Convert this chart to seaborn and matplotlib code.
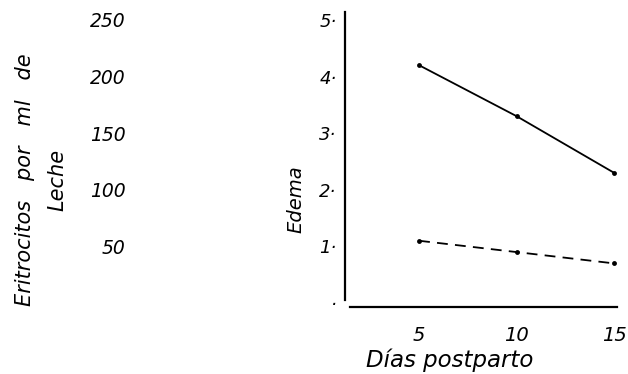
import pandas as pd
import matplotlib
matplotlib.use("Agg")
import matplotlib.pyplot as plt
import seaborn as sns

# Datos
dias = [5, 10, 15]
edema_solida = [4.2, 3.3, 2.3]
edema_discontinua = [1.1, 0.9, 0.7]

edema_ticks = [0, 1, 2, 3, 4, 5]
edema_labels = ["·", "1·", "2·", "3·", "4·", "5·"]
eritro_ticks = [50, 100, 150, 200, 250]
x_ticks = [5, 10, 15]

sns.set_style("white")
plt.rcParams.update({
    "font.family": ["DejaVu Sans"],
    "font.style": "italic",
    "font.size": 12,
    "text.color": "black",
    "xtick.color": "black",
    "ytick.color": "black",
    "axes.edgecolor": "black",
})

W, H = 628, 374
fig = plt.figure(figsize=(W / 100, H / 100), dpi=100)

# Panel derecho: Edema
ax = fig.add_axes([345 / W, 1 - 307 / H, (617 - 345) / W, (307 - 12) / H])
df_s = pd.DataFrame({"dia": dias, "edema": edema_solida})
df_d = pd.DataFrame({"dia": dias, "edema": edema_discontinua})
sns.lineplot(data=df_s, x="dia", y="edema", ax=ax, color="black", lw=1.3,
             marker="o", markersize=3.5, markeredgewidth=0)
sns.lineplot(data=df_d, x="dia", y="edema", ax=ax, color="black", lw=1.3,
             linestyle=(0, (6, 4)), marker="o", markersize=3.5, markeredgewidth=0)

ax.set_xlim(1.2, 15.15)
ax.set_ylim(-0.07, 5.14)
ax.set_yticks(edema_ticks)
ax.set_yticklabels(edema_labels)
ax.set_xticks(x_ticks)
ax.tick_params(axis="y", length=0, pad=6, labelsize=13)
ax.tick_params(axis="x", direction="inout", length=4, width=1.5, pad=12, labelsize=14)
for s in ["top", "right"]:
    ax.spines[s].set_visible(False)
ax.spines["left"].set_linewidth(1.6)
ax.spines["bottom"].set_linewidth(1.6)
ax.spines["left"].set_bounds(0.05, 5.14)
ax.spines["bottom"].set_bounds(1.45, 15.15)
ax.set_xlabel("")
ax.set_ylabel("")
fig.text(296 / W, 1 - 199 / H, "Edema", rotation=90, ha="center", va="center", fontsize=14)
fig.text(450 / W, 1 - 360 / H, "Días postparto", ha="center", va="center", fontsize=16.5)

# Panel izquierdo: sólo la escala de eritrocitos
ax2 = fig.add_axes([130 / W, 1 - 307 / H, 0.01, (307 - 12) / H])
ax2.set_ylim(-0.07 * 50, 5.14 * 50)
ax2.set_yticks(eritro_ticks)
ax2.set_yticklabels([str(t) for t in eritro_ticks])
ax2.tick_params(axis="y", length=0, pad=3, labelsize=13.5)
ax2.set_xticks([])
for s in ax2.spines.values():
    s.set_visible(False)
fig.text(41 / W, 1 - 180 / H, "Eritrocitos   por   ml   de\nLeche", rotation=90,
         ha="center", va="center", multialignment="center", linespacing=1.75, fontsize=15)

fig.savefig("out.png", dpi=100)
